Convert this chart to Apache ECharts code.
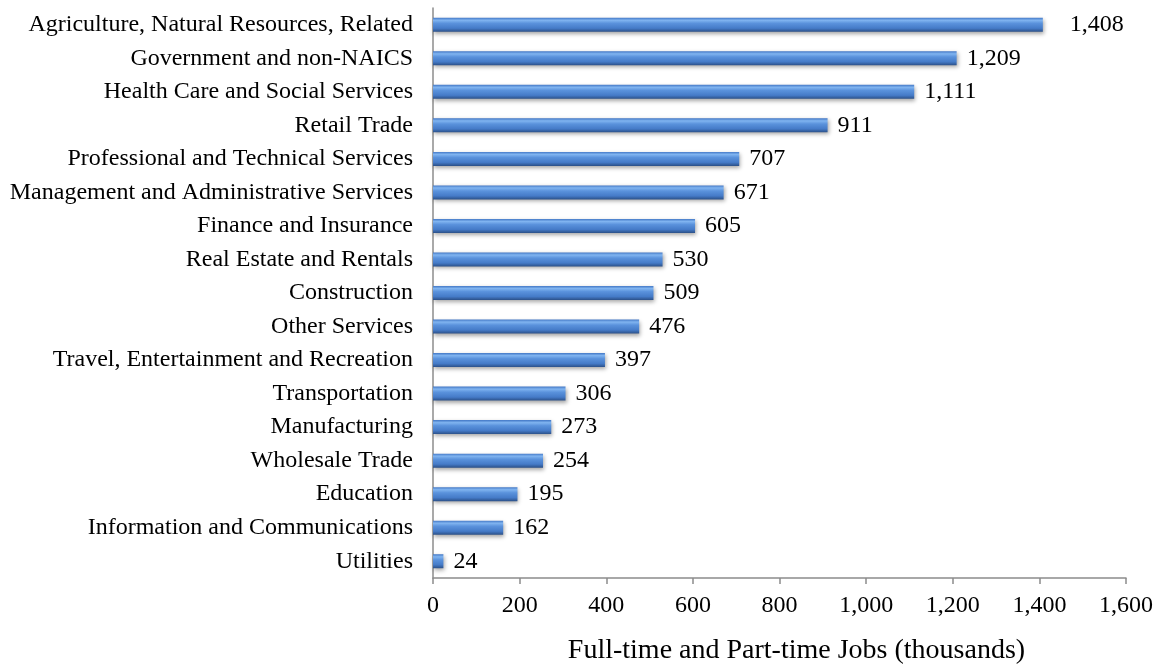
<!DOCTYPE html>
<html>
<head>
<meta charset="utf-8">
<script src="https://cdn.jsdelivr.net/npm/echarts@6/dist/echarts.min.js"></script>
<style>
  html, body { margin: 0; padding: 0; background: #fff; }
  #chart { width: 1155px; height: 666px; }
</style>
</head>
<body>
<div id="chart"></div>
<script>
// Industries, listed bottom to top as the category axis draws them
const industries = [
  'Utilities',
  'Information and Communications',
  'Education',
  'Wholesale Trade',
  'Manufacturing',
  'Transportation',
  'Travel, Entertainment and Recreation',
  'Other Services',
  'Construction',
  'Real Estate and Rentals',
  'Finance and Insurance',
  'Management and Administrative Services',
  'Professional and Technical Services',
  'Retail Trade',
  'Health Care and Social Services',
  'Government and non-NAICS',
  'Agriculture, Natural Resources, Related'
];
// Full-time and part-time jobs, thousands
const jobs = [24, 162, 195, 254, 273, 306, 397, 476, 509, 530, 605, 671, 707, 911, 1111, 1209, 1408];
const xTicks = { min: 0, max: 1600, interval: 200 };

const font = '"Liberation Serif", "Times New Roman", serif';
const chart = echarts.init(document.getElementById('chart'));

const barFill = new echarts.graphic.LinearGradient(0, 0, 0, 1, [
  { offset: 0, color: '#4378c6' },
  { offset: 0.18, color: '#80b4f0' },
  { offset: 0.4, color: '#5a92dc' },
  { offset: 0.75, color: '#457bc8' },
  { offset: 1, color: '#2b5088' }
]);

// the longest bar's value sits a little further out
const maxJobs = Math.max(...jobs);
const barData = jobs.map(v => v === maxJobs ? { value: v, label: { distance: 27 } } : v);

chart.setOption({
  animation: false,
  grid: {
    left: 433, right: 29, top: 8, bottom: 88,
    containLabel: false,
    outerBoundsMode: 'none'
  },
  xAxis: {
    type: 'value',
    min: xTicks.min, max: xTicks.max, interval: xTicks.interval,
    name: 'Full-time and Part-time Jobs (thousands)',
    nameLocation: 'middle',
    nameGap: 59,
    nameTextStyle: { fontFamily: font, fontSize: 28, color: '#000', padding: [0, 0, 0, 34] },
    axisLine: { show: true, lineStyle: { color: '#8c8c8c', width: 1.5 } },
    axisTick: { show: true, length: 6, lineStyle: { color: '#8c8c8c', width: 1.5 } },
    axisLabel: {
      fontFamily: font, fontSize: 24, color: '#000', margin: 16,
      formatter: v => v.toLocaleString('en-US')
    },
    splitLine: { show: false }
  },
  yAxis: {
    type: 'category',
    data: industries,
    axisLine: { show: true, lineStyle: { color: '#8c8c8c', width: 1.5 } },
    axisTick: { show: false },
    axisLabel: { fontFamily: font, fontSize: 24, color: '#000', margin: 20 }
  },
  series: [{
    type: 'bar',
    data: barData,
    barWidth: 14,
    itemStyle: {
      color: barFill,
      shadowColor: 'rgba(0,0,0,0.35)',
      shadowBlur: 4,
      shadowOffsetX: 1,
      shadowOffsetY: 2
    },
    label: {
      show: true,
      position: 'right',
      distance: 10,
      fontFamily: font,
      fontSize: 24,
      color: '#000',
      formatter: p => p.value.toLocaleString('en-US')
    }
  }]
});
</script>
</body>
</html>
